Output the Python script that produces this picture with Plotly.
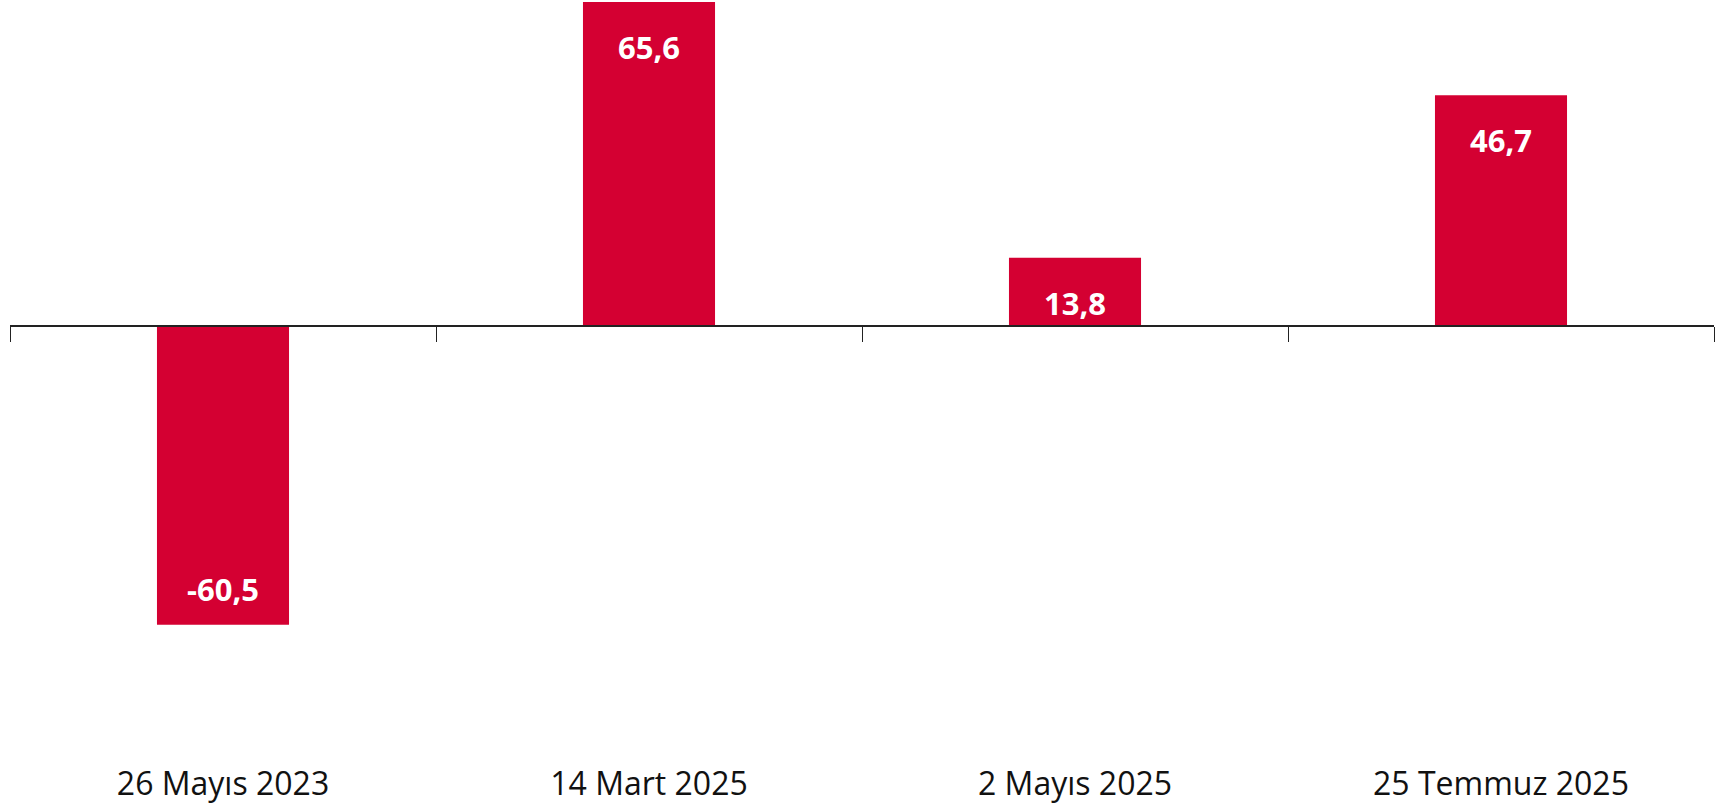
import plotly.graph_objects as go

categories = ["26 Mayıs 2023", "14 Mart 2025", "2 Mayıs 2025", "25 Temmuz 2025"]
values = [-60.5, 65.6, 13.8, 46.7]
value_labels = ["-60,5", "65,6", "13,8", "46,7"]

BAR_COLOR = "#D40032"
W, H = 1727, 806
M_L, M_R, M_T, M_B = 10, 13, 0, 44

# y scale: zero at 326 px, 4.94 px per unit
plot_h = H - M_T - M_B
px_per_unit = 4.94
zero_px = 326 - M_T
y_max = zero_px / px_per_unit
y_min = -(plot_h - zero_px) / px_per_unit
zero_pos = (0 - y_min) / (y_max - y_min)

x_idx = list(range(len(categories)))

fig = go.Figure()
fig.add_trace(go.Bar(
    x=x_idx, y=values, marker=dict(color=BAR_COLOR, line=dict(width=0)),
    hoverinfo="skip", showlegend=False, cliponaxis=False,
))
# helper invisible trace so the zero-line axis gets drawn
fig.add_trace(go.Scatter(
    x=[x_idx[0]], y=[0], xaxis="x2", yaxis="y", mode="markers",
    marker=dict(opacity=0), hoverinfo="skip", showlegend=False,
))

for xi, v, lab in zip(x_idx, values, value_labels):
    fig.add_annotation(
        x=xi, y=v, text=lab, showarrow=False,
        yanchor="top" if v >= 0 else "bottom",
        yshift=-22 if v >= 0 else 13,
        font=dict(family="Open Sans", size=31, color="white", weight="bold"),
    )

boundaries = [i - 0.5 for i in range(len(categories) + 1)]

fig.update_layout(
    width=W, height=H,
    margin=dict(l=M_L, r=M_R, t=M_T, b=M_B, autoexpand=False),
    paper_bgcolor="white", plot_bgcolor="white",
    bargap=0.69,
    font=dict(family="Open Sans", color="#111111"),
    xaxis=dict(
        tickmode="array", tickvals=x_idx, ticktext=categories,
        range=[-0.5, len(categories) - 0.5], automargin=False,
        showline=False, showgrid=False, zeroline=False, ticks="",
        tickfont=dict(family="Open Sans", size=32, color="#111111"),
    ),
    xaxis2=dict(
        overlaying="x", anchor="free", position=zero_pos, automargin=False,
        range=[-0.5, len(categories) - 0.5],
        tickmode="array", tickvals=boundaries, showticklabels=False,
        showline=True, linecolor="#222222", linewidth=2,
        ticks="outside", ticklen=15, tickwidth=1.2, tickcolor="#222222",
        showgrid=False, zeroline=False,
    ),
    yaxis=dict(
        range=[y_min, y_max], visible=False, showgrid=False, zeroline=False,
        automargin=False,
    ),
)

fig.write_html(
    "out.html",
    config={"displayModeBar": False},
    post_script="document.body.style.margin='0';document.body.style.overflow='hidden';",
)
